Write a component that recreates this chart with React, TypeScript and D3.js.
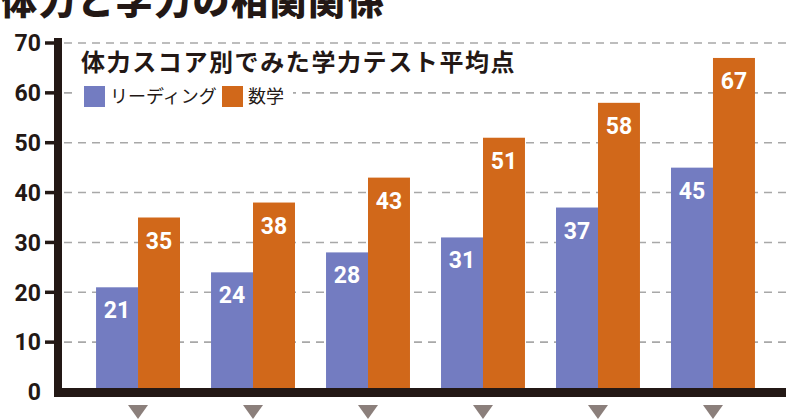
import React from "react";
import * as d3 from "d3";

const groups = ["g1", "g2", "g3", "g4", "g5", "g6"];
const seriesKeys = ["reading", "math"];
const seriesNames = ["リーディング", "数学"];
const readingValues = [21, 24, 28, 31, 37, 45];
const mathValues = [35, 38, 43, 51, 58, 67];
const yTicks = [0, 10, 20, 30, 40, 50, 60, 70];
const titleText = "体力と学力の相関関係";
const subtitleText = "体力スコア別でみた学力テスト平均点";

const W = 800;
const H = 419;
const BLUE = "#737cc1";
const ORANGE = "#d1681a";
const INK = "#231815";
const JP = "'Noto Sans CJK JP', 'Noto Sans', sans-serif";
const NUM = "Roboto, 'DejaVu Sans', sans-serif";

export default function App() {
  const y = d3.scaleLinear().domain([0, 70]).range([392, 43]);
  const x = d3.scaleBand<string>().domain(groups).range([65, 786]).paddingInner(0.27).paddingOuter(0.27);
  const xi = d3.scaleBand<string>().domain(seriesKeys).range([0, x.bandwidth()]);
  const colors = [BLUE, ORANGE];
  const values = [readingValues, mathValues];

  return (
    <svg
      width={W}
      height={H}
      viewBox={`0 0 ${W} ${H}`}
      style={{ position: "absolute", left: 0, top: 0, background: "#fff", display: "block" }}
    >
      <rect x={0} y={0} width={W} height={H} fill="#fff" />
      {/* gridlines */}
      {yTicks.filter((t) => t > 0).map((t) => (
        <line
          key={"g" + t}
          x1={64}
          x2={786}
          y1={y(t)}
          y2={y(t)}
          stroke="#a8a8a8"
          strokeWidth={1.6}
          strokeDasharray="8 6"
        />
      ))}
      {/* legend background */}
      <rect x={74} y={80} width={219} height={28} fill="#fff" />
      {/* bars */}
      {groups.map((g, gi) => (
        <g key={g} transform={`translate(${x(g)},0)`}>
          {seriesKeys.map((k, si) => {
            const v = values[si][gi];
            return (
              <g key={k}>
                <rect
                  x={xi(k)}
                  y={y(v)}
                  width={xi.bandwidth()}
                  height={y(0) - y(v)}
                  fill={colors[si]}
                />
                <text
                  x={(xi(k) as number) + xi.bandwidth() / 2}
                  y={y(v) + 31}
                  textAnchor="middle"
                  fill="#fff"
                  fontFamily={NUM}
                  fontWeight={700}
                  fontSize={23}
                >
                  {v}
                </text>
              </g>
            );
          })}
          {/* down triangle */}
          <path
            d={`M${x.bandwidth() / 2 - 10},405 L${x.bandwidth() / 2 + 10},405 L${x.bandwidth() / 2},419 Z`}
            fill="#8b7f7b"
          />
        </g>
      ))}
      {/* axes */}
      <line x1={58} x2={58} y1={38} y2={397} stroke={INK} strokeWidth={8} />
      <line x1={54} x2={786} y1={392.5} y2={392.5} stroke={INK} strokeWidth={9} />
      {yTicks.map((t) => (
        <g key={"t" + t}>
          {t > 0 && <line x1={45} x2={58} y1={y(t)} y2={y(t)} stroke={INK} strokeWidth={3.5} />}
          <text
            x={41}
            y={y(t)}
            dy="0.36em"
            textAnchor="end"
            fill={INK}
            fontFamily={NUM}
            fontWeight={700}
            fontSize={23}
          >
            {t}
          </text>
        </g>
      ))}
      {/* title */}
      <text x={0} y={15} fill={INK} fontFamily={JP} fontWeight={900} fontSize={37} letterSpacing={1.5}>
        {titleText}
      </text>
      <text x={81} y={71} fill={INK} fontFamily={JP} fontWeight={700} fontSize={24} letterSpacing={1.6}>
        {subtitleText}
      </text>
      {/* legend */}
      {seriesNames.map((n, i) => (
        <g key={n} transform={`translate(${i === 0 ? 84 : 222},86)`}>
          <rect x={0} y={0} width={21} height={21} fill={colors[i]} />
          <text x={26} y={17} fill={INK} fontFamily={JP} fontSize={18}>
            {n}
          </text>
        </g>
      ))}
    </svg>
  );
}
